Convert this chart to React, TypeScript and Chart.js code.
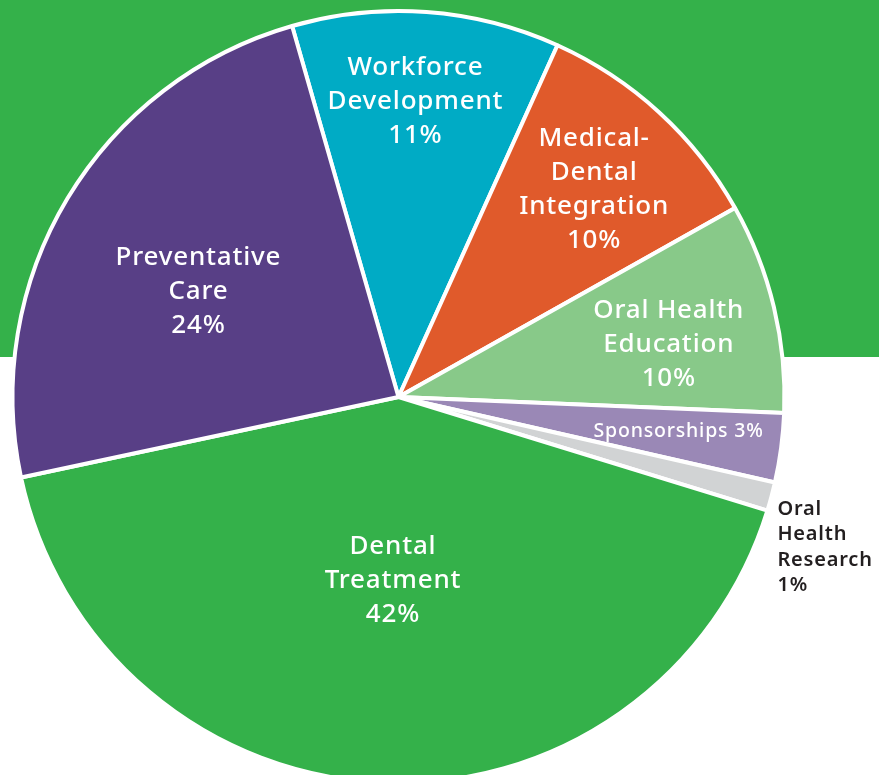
import React, { useEffect, useRef } from "react";
import { Chart, registerables } from "chart.js";

Chart.register(...registerables);

const categories = [
  "Workforce Development",
  "Medical-Dental Integration",
  "Oral Health Education",
  "Sponsorships",
  "Oral Health Research",
  "Dental Treatment",
  "Preventative Care",
];
const shares = [11.2, 10.1, 8.8, 2.9, 1.2, 41.9, 23.9];
const labelLines = [
  ["Workforce", "Development", "11%"],
  ["Medical-", "Dental", "Integration", "10%"],
  ["Oral Health", "Education", "10%"],
  ["Sponsorships 3%"],
  ["Oral", "Health", "Research", "1%"],
  ["Dental", "Treatment", "42%"],
  ["Preventative", "Care", "24%"],
];
const sliceColors = ["#00abc5", "#e05a2b", "#88c989", "#9a88b6", "#d1d3d4", "#34b14a", "#583f86"];

const FONT = '"Noto Sans", sans-serif';

// label placement: [radius fraction, angle offset (deg), font size, line height, color, align, weight, letter spacing]
const placement: [number, number, number, number, string, CanvasTextAlign, number, number][] = [
  [0.771, -0.9, 26, 34, "#ffffff", "center", 500, 0.8],
  [0.743, 0.5, 26, 34, "#ffffff", "center", 500, 0.8],
  [0.714, 2.2, 26, 34, "#ffffff", "center", 500, 0.8],
  [0.731, -0.6, 19.5, 25, "#ffffff", "center", 500, 0.8],
  [1.06, 6.6, 20, 25.5, "#231f20", "left", 600, 0.8],
  [0.47, -0.8, 26, 34, "#ffffff", "center", 500, 0.8],
  [0.588, -2.8, 26, 34, "#ffffff", "center", 500, 0.8],
];

const backgroundPlugin = {
  id: "bgPanel",
  beforeDraw(chart: any) {
    const { ctx, width, height } = chart;
    ctx.save();
    ctx.fillStyle = "#ffffff";
    ctx.fillRect(0, 0, width, height);
    ctx.fillStyle = "#34b14a";
    ctx.fillRect(0, 0, width, 357);
    ctx.restore();
  },
};

const labelPlugin = {
  id: "sliceLabels",
  afterDatasetsDraw(chart: any) {
    const { ctx } = chart;
    const meta = chart.getDatasetMeta(0);
    meta.data.forEach((arc: any, i: number) => {
      const p = placement[i];
      const lines = labelLines[i];
      const mid = (arc.startAngle + arc.endAngle) / 2 + (p[1] * Math.PI) / 180;
      const r = arc.outerRadius * p[0];
      let x = arc.x + Math.cos(mid) * r;
      let y = arc.y + Math.sin(mid) * r;
      if (p[5] === "left") {
        x = arc.x + Math.cos((arc.startAngle + arc.endAngle) / 2) * arc.outerRadius + 6;
      } else if (p[2] > 24) {
        y += 2;
      }
      ctx.save();
      ctx.fillStyle = p[4];
      ctx.font = `${p[6]} ${p[2]}px ${FONT}`;
      (ctx as any).letterSpacing = `${p[7]}px`;
      ctx.textAlign = p[5];
      ctx.textBaseline = "middle";
      const total = (lines.length - 1) * p[3];
      lines.forEach((ln, k) => {
        ctx.fillText(ln, x, y - total / 2 + k * p[3]);
      });
      ctx.restore();
    });
  },
};

export default function App() {
  const ref = useRef<HTMLCanvasElement | null>(null);
  useEffect(() => {
    document.body.style.margin = "0";
    const chart = new Chart(ref.current!, {
      type: "pie",
      data: {
        labels: categories,
        datasets: [
          {
            data: shares,
            backgroundColor: sliceColors,
            borderColor: "#ffffff",
            borderWidth: 4,
            clip: false as any,
          },
        ],
      },
      options: {
        animation: false,
        responsive: false,
        rotation: -16,
        radius: 386,
        layout: { padding: { left: 14, right: 96, top: 19, bottom: 0 } },
        plugins: { legend: { display: false }, tooltip: { enabled: false } },
      } as any,
      plugins: [backgroundPlugin, labelPlugin],
    });
    return () => chart.destroy();
  }, []);
  return (
    <div style={{ position: "fixed", left: 0, top: 0, width: 879, height: 775, overflow: "hidden" }}>
      <canvas ref={ref} width={879} height={775} style={{ width: 879, height: 775 }} />
    </div>
  );
}
